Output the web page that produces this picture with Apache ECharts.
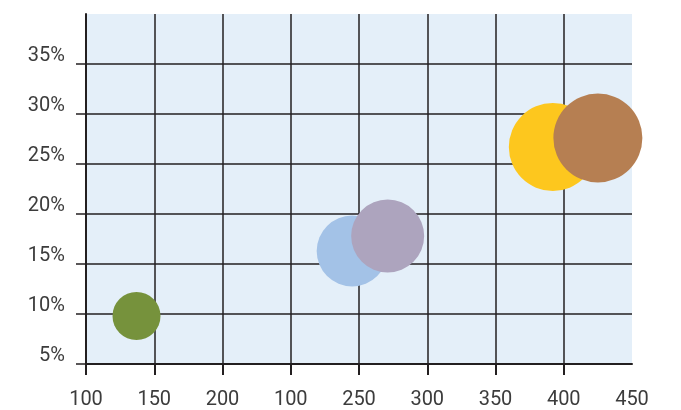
<!DOCTYPE html>
<html><head><meta charset="utf-8">
<script src="https://cdn.jsdelivr.net/npm/echarts@6/dist/echarts.min.js"></script>
<style>html,body{margin:0;padding:0;background:#fff}#c{width:681px;height:410px}</style>
</head><body><div id="c"></div>
<script>
const xTickLabels = ['100','150','200','100','250','300','350','400','450'];
const names = ['A','B','C','D','E'];
const xValues = [87, 245, 271, 392, 425];
const yValues = [9.8, 16.3, 17.8, 26.7, 27.6];
const sizes = [48, 71, 73, 88, 89];
const colors = ['#76923C', '#A3C2E7', '#ADA4BE', '#FDC71E', '#B67F52'];

const chart = echarts.init(document.getElementById('c'));
const font = 'Roboto';
const L = '#231F20', T = 'rgba(0,0,0,0)';
chart.setOption({
  animation: false,
  grid: { left: 86, right: 49, top: 14, bottom: 45, show: true, backgroundColor: '#E4EFF9', borderWidth: 0 },
  xAxis: {
    type: 'value', min: 50, max: 450, interval: 50,
    axisLine: { show: true, onZero: false, lineStyle: { color: L, width: 2 } },
    axisTick: { show: true, length: 11, inside: false, lineStyle: { color: L, width: 2 },
      customValues: [50, 100, 150, 200, 250, 300, 350, 400] },
    splitLine: { show: true, lineStyle: { color: [L, L, L, L, L, L, L, L, T], width: 1.5 } },
    axisLabel: { margin: 26, color: '#3C3C3C', fontFamily: font, fontSize: 20,
      formatter: function (v) { return xTickLabels[Math.round((v - 50) / 50)]; } }
  },
  yAxis: {
    type: 'value', min: 5, max: 40, interval: 5,
    axisLine: { show: true, onZero: false, lineStyle: { color: L, width: 2 } },
    axisTick: { show: true, length: 10, lineStyle: { color: L, width: 1.5 },
      customValues: [5, 10, 15, 20, 25, 30, 35] },
    splitLine: { show: true, lineStyle: { color: [L, L, L, L, L, L, L, T], width: 1.5 } },
    axisLabel: { margin: 21, color: '#3C3C3C', fontFamily: font, fontSize: 20, verticalAlign: 'bottom', lineHeight: 16,
      formatter: function (v) { return v >= 40 ? '' : v + '%'; } }
  },
  series: [{
    type: 'scatter', clip: false,
    data: names.map((n, i) => ({ name: n, value: [xValues[i], yValues[i], sizes[i]], itemStyle: { color: colors[i], opacity: 1 } })),
    symbolSize: function (d) { return d[2]; },
    z: 5
  }]
});
</script></body></html>
